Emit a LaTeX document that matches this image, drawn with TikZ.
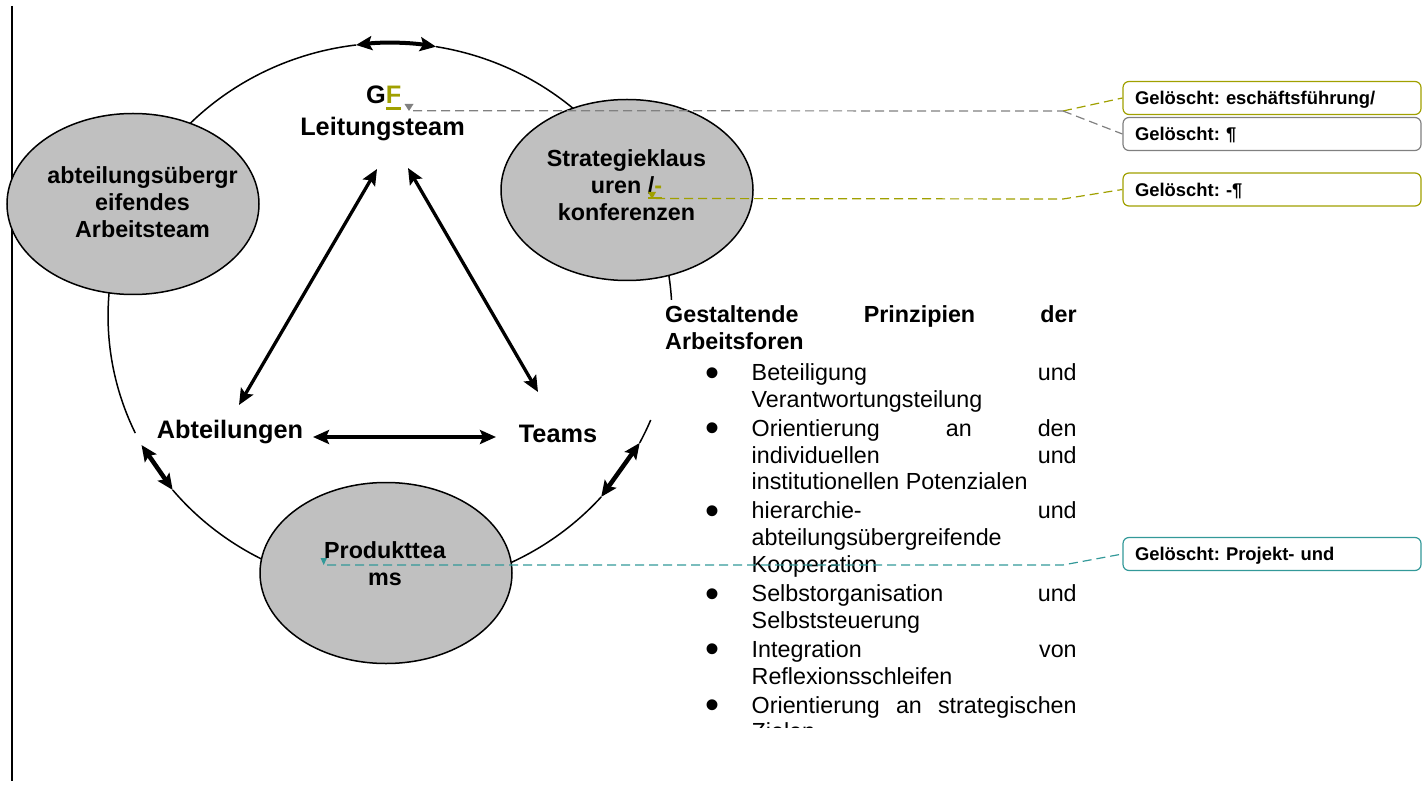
\documentclass[tikz,border=0pt]{standalone}
\usepackage{fontspec}
\setmainfont{Liberation Sans}
\usetikzlibrary{arrows.meta,shapes.geometric}
\definecolor{trkolive}{RGB}{160,160,0}
\definecolor{trkgray}{RGB}{128,128,128}
\definecolor{trkteal}{RGB}{51,153,153}
\definecolor{ellgray}{RGB}{192,192,192}
\newsavebox\olbox
\newcommand\olul[1]{\sbox\olbox{#1}\rlap{\color{trkolive}\rule[-6pt]{\wd\olbox}{2.6pt}}\usebox\olbox}
\newcommand\bul{\makebox[86.5pt][l]{\hspace{40.5pt}\raisebox{-5.6pt}{\fontsize{40}{20}\selectfont •}}}
\newcommand\cont{\hspace*{86.5pt}}
\begin{document}
\begin{tikzpicture}[x=1pt,y=-1pt,
  circ/.style={line width=1.5pt},
  ell/.style={ellipse, draw, line width=1.5pt, fill=ellgray, minimum width=252pt, minimum height=181pt, inner sep=0pt},
  lbl/.style={font=\fontsize{25.3}{32}\selectfont\bfseries, inner sep=0pt, anchor=base},
  etxt/.style={font=\fontsize{23.3}{27}\selectfont\bfseries, inner sep=0pt, align=center, anchor=north},
  dblarrow/.style={line width=#1, arrows={Stealth[length=16pt,width=14pt,inset=3pt]-Stealth[length=16pt,width=14pt,inset=3pt]}},
  cbox/.style={draw, rounded corners=6pt, line width=1.2pt, fill=white, minimum width=298pt, minimum height=33pt, inner xsep=12pt, inner ysep=0pt, text width=274pt, align=left, text height=13.4pt, text depth=0pt, font=\fontsize{18.4}{23}\selectfont\bfseries\frenchspacing},
  cline/.style={line width=1.2pt, dash pattern=on 9pt off 5pt}
]
\useasboundingbox (0,0) rectangle (1423,791);

% left margin line
\coordinate (lt) at (12,6);
\coordinate (lb) at (12,781);
\draw[line width=2pt] (lt) -- (lb);

% big circle: arc pieces (centre 390,316; radii 282 x 273)
\coordinate (a1) at (436.06,46.67);
\coordinate (a3) at (650.7,420.0);
\coordinate (a4) at (639.7,442.9);
\coordinate (a5) at (601.2,496.9);
\coordinate (a6) at (172.7,490.0);
\coordinate (a7) at (141.5,445.0);
\coordinate (a8) at (135.3,433.1);
\coordinate (a9) at (356.0,45.0);
\draw[circ] (a1) arc[start angle=279.4, end angle=356.6, x radius=282, y radius=273];
\draw[circ] (a3) arc[start angle=22.4, end angle=27.7, x radius=282, y radius=273];
\draw[circ] (a5) arc[start angle=41.5, end angle=140.4, x radius=282, y radius=273];
\draw[circ] (a8) arc[start angle=154.6, end angle=263.07, x radius=282, y radius=273];

% arrows along the circle
\draw[dblarrow=4pt] (a9) arc[start angle=263.07, end angle=279.4, x radius=282, y radius=273];
\draw[dblarrow=4.5pt] (a4) -- (a5);
\draw[dblarrow=4.5pt] (a6) -- (a7);

% ellipses
\node[ell] (eAbt) at (133,204) {};
\node[ell] (eStr) at (627,190) {};
\node[ell] (eProd) at (386,573) {};

\node[etxt] (tAbt) at (142.5,163) {\rule{0pt}{20pt}abteilungsübergr\\eifendes\\Arbeitsteam};
\node[etxt] (tStr) at (626.5,146) {\rule{0pt}{20pt}Strategieklaus\\uren \olul{/{\color{trkolive}-}}\\konferenzen};
\node[etxt] (tProd) at (385,538) {\rule{0pt}{20pt}Produkttea\\ms};

% labels
\node[lbl, anchor=base west] (gf) at (366,104) {G\olul{{\color{trkolive}F}}};
\node[lbl] (leit) at (382.5,136) {Leitungsteam};
\node[lbl] (abt) at (230,438.3) {Abteilungen};
\node[lbl] (teams) at (558,442.3) {Teams};

% inner arrows
\coordinate (abtT) at (239,405);
\coordinate (leitL) at (377,169);
\coordinate (leitR) at (408,168);
\coordinate (teamsT) at (538,392);
\coordinate (abtR) at (313,437);
\coordinate (teamsL) at (496,437);
\draw[dblarrow=3.3pt] (abtT) -- (leitL);
\draw[dblarrow=3.3pt] (leitR) -- (teamsT);
\draw[dblarrow=3.3pt] (abtR) -- (teamsL);

% principles text box
\begin{scope}
\clip (650,295) rectangle (1100,727.5);
\node[anchor=north west, inner sep=0pt, font=\fontsize{23.3}{26.85}\selectfont] (prin) at (665,302.7) {%
\begin{minipage}[t]{411.5pt}\setlength\parindent{0pt}%
\rule{0pt}{20pt}\makebox[411.5pt][s]{\bfseries Gestaltende Prinzipien der}\\
{\bfseries Arbeitsforen}\\[3.8pt]
\bul\makebox[325pt][s]{Beteiligung und}\\
\cont Verantwortungsteilung\\[2.1pt]
\bul\makebox[325pt][s]{Orientierung an den}\\
\cont\makebox[325pt][s]{individuellen und}\\
\cont institutionellen Potenzialen\\[2.1pt]
\bul\makebox[325pt][s]{hierarchie- und}\\
\cont abteilungsübergreifende\\
\cont Kooperation\\[2.1pt]
\bul\makebox[325pt][s]{Selbstorganisation und}\\
\cont Selbststeuerung\\[2.1pt]
\bul\makebox[325pt][s]{Integration von}\\
\cont Reflexionsschleifen\\[2.1pt]
\bul\makebox[325pt][s]{Orientierung an strategischen}\\
\cont Zielen
\end{minipage}};
\end{scope}

% comment balloons
\node[cbox, draw=trkolive] (b1) at (1272,98) {Gelöscht: eschäftsführung/};
\node[cbox, draw=trkgray] (b2) at (1272,134) {Gelöscht: ¶};
\node[cbox, draw=trkolive] (b3) at (1272,189.5) {Gelöscht: -¶};
\node[cbox, draw=trkteal] (b4) at (1272,554) {Gelöscht: Projekt- und};

% change markers
\fill[trkgray] (404.5,104) -- (413.5,104) -- (409,111) -- cycle;
\fill[trkolive] (648,192) -- (656,192) -- (652,199) -- cycle;
\fill[trkteal] (320.5,558) -- (327,558) -- (323.7,565) -- cycle;
\coordinate (m1) at (413,110.7);
\coordinate (m2) at (656,198.5);
\coordinate (m3) at (327,565);
\coordinate (j1) at (1063,111);
\coordinate (j3) at (1063,199);
\coordinate (j4) at (1063,565);

\draw[cline, trkgray] (m1) -- (j1);
\draw[cline, trkolive] (j1) -- (b1.west);
\draw[cline, trkgray] (j1) -- (b2.west);
\draw[cline, trkolive] (m2) -- (j3) -- (b3.west);
\draw[cline, trkteal] (m3) -- (j4) -- (b4.west);
\end{tikzpicture}
\end{document}
